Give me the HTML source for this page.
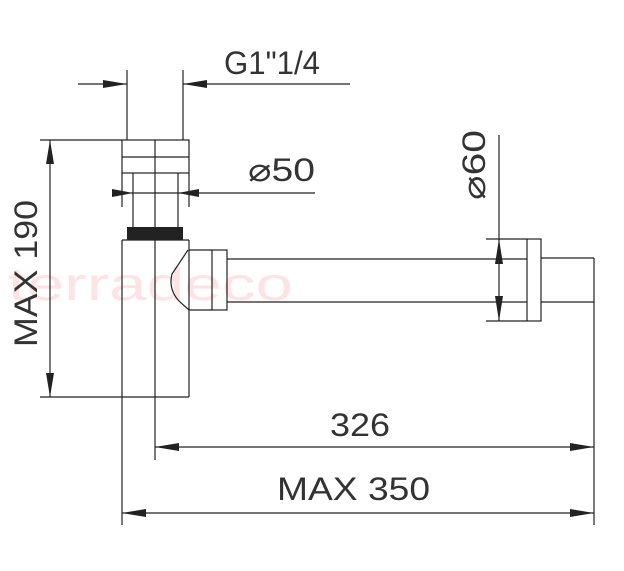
<!DOCTYPE html>
<html><head><style>body{margin:0;background:#fff}svg{display:block}</style></head><body>
<svg width="624" height="571" viewBox="0 0 624 571" xmlns="http://www.w3.org/2000/svg" font-family="'Liberation Sans',sans-serif">
<text x="8" y="300" font-size="46" fill="#fde3e3" textLength="285" lengthAdjust="spacingAndGlyphs">terradeco</text>
<g stroke="#222" stroke-width="1.2" fill="none">
<line x1="78" y1="84" x2="127" y2="84"/><line x1="183" y1="84" x2="350" y2="84"/>
<line x1="127" y1="70" x2="127" y2="140"/><line x1="183" y1="70" x2="183" y2="140"/>
<rect x="122" y="140" width="67" height="33"/><line x1="122" y1="157" x2="189" y2="157"/>
<line x1="155" y1="140" x2="155" y2="460"/>
<line x1="133" y1="173" x2="133" y2="227"/><line x1="178" y1="173" x2="178" y2="227"/>
<line x1="122" y1="173" x2="122" y2="207"/><line x1="189" y1="173" x2="189" y2="207"/>
<line x1="122" y1="193" x2="315" y2="193"/>
<line x1="122" y1="240" x2="122" y2="525"/><line x1="122" y1="240" x2="189" y2="240"/>
<line x1="189" y1="240" x2="189" y2="397"/>
<line x1="40" y1="140" x2="122" y2="140"/><line x1="40" y1="397" x2="189" y2="397"/>
<line x1="50" y1="140" x2="50" y2="397"/>
<path d="M189 250 L212 250 M189 310 L212 310 M188 250 L172 274 Q168 290 180 302 L189 310"/>
<rect x="212" y="250" width="15" height="60"/>
<line x1="227" y1="259" x2="527" y2="259"/><line x1="227" y1="302" x2="527" y2="302"/>
<rect x="527" y="239" width="14" height="82"/>
<line x1="486" y1="239" x2="527" y2="239"/><line x1="486" y1="321" x2="527" y2="321"/>
<line x1="541" y1="258" x2="594" y2="258"/><line x1="541" y1="302" x2="594" y2="302"/>
<line x1="594" y1="258" x2="594" y2="525"/>
<line x1="499" y1="135" x2="499" y2="321"/>
<line x1="155" y1="447" x2="594" y2="447"/>
<line x1="122" y1="513" x2="594" y2="513"/>
</g>
<rect x="127" y="227" width="56" height="13" fill="#222"/>
<g fill="#222">
<polygon points="127,84 103,80 103,88"/><polygon points="183,84 207,80 207,88"/>
<polygon points="133,193 112,189 112,197"/><polygon points="178,193 199,189 199,197"/>
<polygon points="50,140 46,164 54,164"/><polygon points="50,397 46,373 54,373"/>
<polygon points="499,239 495,264 503,264"/><polygon points="499,321 495,296 503,296"/>
<polygon points="155,447 179,443 179,451"/><polygon points="594,447 570,443 570,451"/>
<polygon points="122,513 146,509 146,517"/><polygon points="594,513 570,509 570,517"/>
</g>
<g fill="#333" font-size="32">
<text x="224" y="74" textLength="96" lengthAdjust="spacingAndGlyphs">G1"1/4</text>
<text x="248" y="181" textLength="67" lengthAdjust="spacingAndGlyphs">⌀50</text>
<text x="330" y="436" textLength="60" lengthAdjust="spacingAndGlyphs">326</text>
<text x="277" y="500" textLength="153" lengthAdjust="spacingAndGlyphs">MAX 350</text>
<text transform="translate(37,347) rotate(-90)" textLength="147" lengthAdjust="spacingAndGlyphs">MAX 190</text>
<text transform="translate(485,200) rotate(-90)" textLength="70" lengthAdjust="spacingAndGlyphs">⌀60</text>
</g>
</svg>
</body></html>
